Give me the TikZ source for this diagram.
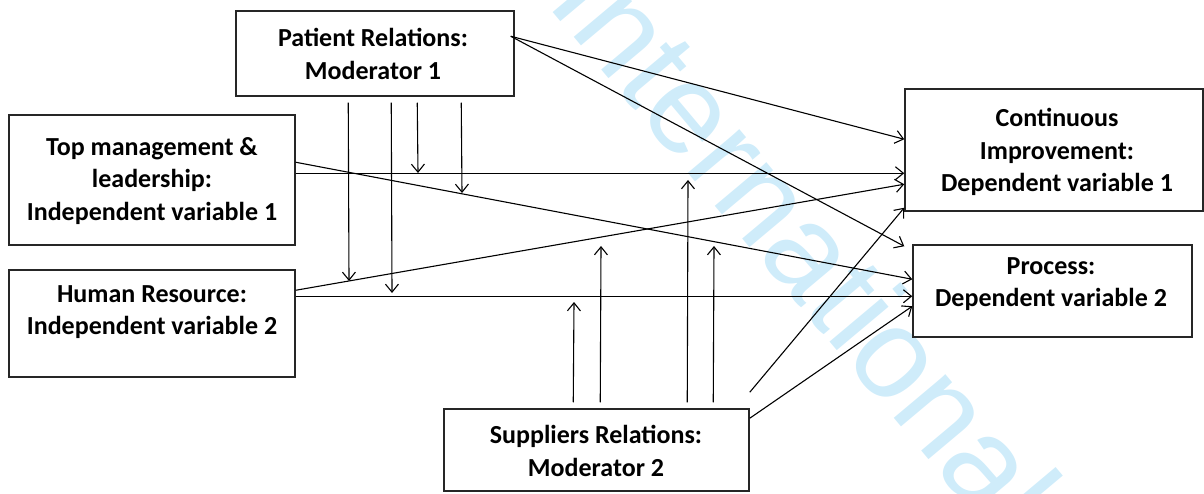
\documentclass[tikz,border=0pt]{standalone}
\usepackage{fontspec}
\setmainfont{Carlito}
\newfontfamily\wmfont{Liberation Sans}
\usetikzlibrary{arrows.meta,calc}
\definecolor{wmblue}{RGB}{207,236,250}
\tikzset{
  frame/.style={draw=black!85, line width=1.5pt, inner sep=0pt},
  lbl/.style={inner sep=0pt, align=center, font=\fontsize{26}{32.5}\selectfont\bfseries},
  link/.style={line width=1.1pt, -{Straight Barb[length=8pt,width=13pt,line width=1.1pt]}},
}
\begin{document}
\begin{tikzpicture}[x=1pt,y=-1pt]
\useasboundingbox (0,0) rectangle (1204,494);

% faint diagonal watermark behind everything
\begin{scope}
  \clip (0,0) rectangle (1204,494);
  \node[text=wmblue, font=\wmfont\fontsize{128}{128}\selectfont, rotate=-50,
        anchor=base west, inner sep=0pt] (wm) at (545,3) {International};
\end{scope}

% boxes
\node[frame, minimum width=278pt, minimum height=85pt]  (pbox)  at (375,53.5)   {};
\node[frame, minimum width=286pt, minimum height=130pt] (tmbox) at (152,180)    {};
\node[frame, minimum width=286pt, minimum height=107pt] (hrbox) at (152,323.5)  {};
\node[frame, minimum width=298pt, minimum height=122pt] (cibox) at (1054,150)   {};
\node[frame, minimum width=279pt, minimum height=92pt]  (prbox) at (1052.5,291) {};
\node[frame, minimum width=305pt, minimum height=82pt]  (sbox)  at (596.5,450)  {};

% box texts
\node[lbl] (ptxt)  at (373,54)   {Patient Relations:\\Moderator 1};
\node[lbl] (tmtxt) at (152,181)  {Top management \&\\leadership:\\Independent variable 1};
\node[lbl] (hrtxt) at (152,312)  {Human Resource:\\Independent variable 2};
\node[lbl] (citxt) at (1057,152) {Continuous\\Improvement:\\Dependent variable 1};
\node[lbl] (prtxt) at (1051,284) {Process:\\Dependent variable 2};
\node[lbl] (stxt)  at (596,451)  {Suppliers Relations:\\Moderator 2};

% connector end points on the boxes
\coordinate (p-o)   at ($(pbox.north east)+(-4,26)$);
\coordinate (tm-o1) at ($(tmbox.north east)+(0,59)$);
\coordinate (tm-o2) at ($(tmbox.north east)+(0,48)$);
\coordinate (hr-o1) at ($(hrbox.north east)+(0,21)$);
\coordinate (hr-o2) at ($(hrbox.north east)+(0,27)$);
\coordinate (s-o1)  at ($(sbox.north east)+(0,-16)$);
\coordinate (s-o2)  at ($(sbox.north east)+(0,10)$);
\coordinate (ci-i1) at ($(cibox.north west)+(0,51)$);
\coordinate (ci-i2) at ($(cibox.north west)+(0,85)$);
\coordinate (ci-i3) at ($(cibox.north west)+(0,96)$);
\coordinate (ci-i4) at ($(cibox.south west)+(0,-4)$);
\coordinate (pr-i1) at ($(prbox.north west)+(-8,2)$);
\coordinate (pr-i2) at ($(prbox.north west)+(0,35)$);
\coordinate (pr-i3) at ($(prbox.north west)+(0,52)$);
\coordinate (pr-i4) at ($(prbox.north west)+(0,62)$);

% main paths
\draw[link] (p-o)   -- (ci-i1);
\draw[link] (p-o)   -- (pr-i1);
\draw[link] (tm-o1) -- (ci-i2);
\draw[link] (tm-o2) -- (pr-i2);
\draw[link] (hr-o1) -- (ci-i3);
\draw[link] (hr-o2) -- (pr-i3);
\draw[link] (s-o1)  -- (ci-i4);
\draw[link] (s-o2)  -- (pr-i4);

% moderating effects of patient relations
\coordinate (pm1) at ($(pbox.south west)+(113,6)$);
\coordinate (pm2) at ($(pbox.south west)+(156,6)$);
\coordinate (pm3) at ($(pbox.south west)+(182,6)$);
\coordinate (pm4) at ($(pbox.south west)+(226,6)$);
\coordinate (pm1-e) at (349,281);
\coordinate (pm2-e) at (392,293);
\coordinate (pm3-e) at (418,173);
\coordinate (pm4-e) at (462,193);
\draw[link] (pm1) -- (pm1-e);
\draw[link] (pm2) -- (pm2-e);
\draw[link] (pm3) -- (pm3-e);
\draw[link] (pm4) -- (pm4-e);

% moderating effects of suppliers relations
\coordinate (sm1) at ($(sbox.north west)+(130,-6)$);
\coordinate (sm2) at ($(sbox.north west)+(157,-6)$);
\coordinate (sm3) at ($(sbox.north west)+(244,-6)$);
\coordinate (sm4) at ($(sbox.north west)+(270,-6)$);
\coordinate (sm1-e) at (574,302);
\coordinate (sm2-e) at (601,246);
\coordinate (sm3-e) at (688,180);
\coordinate (sm4-e) at (714,246);
\draw[link] (sm1) -- (sm1-e);
\draw[link] (sm2) -- (sm2-e);
\draw[link] (sm3) -- (sm3-e);
\draw[link] (sm4) -- (sm4-e);
\end{tikzpicture}
\end{document}
